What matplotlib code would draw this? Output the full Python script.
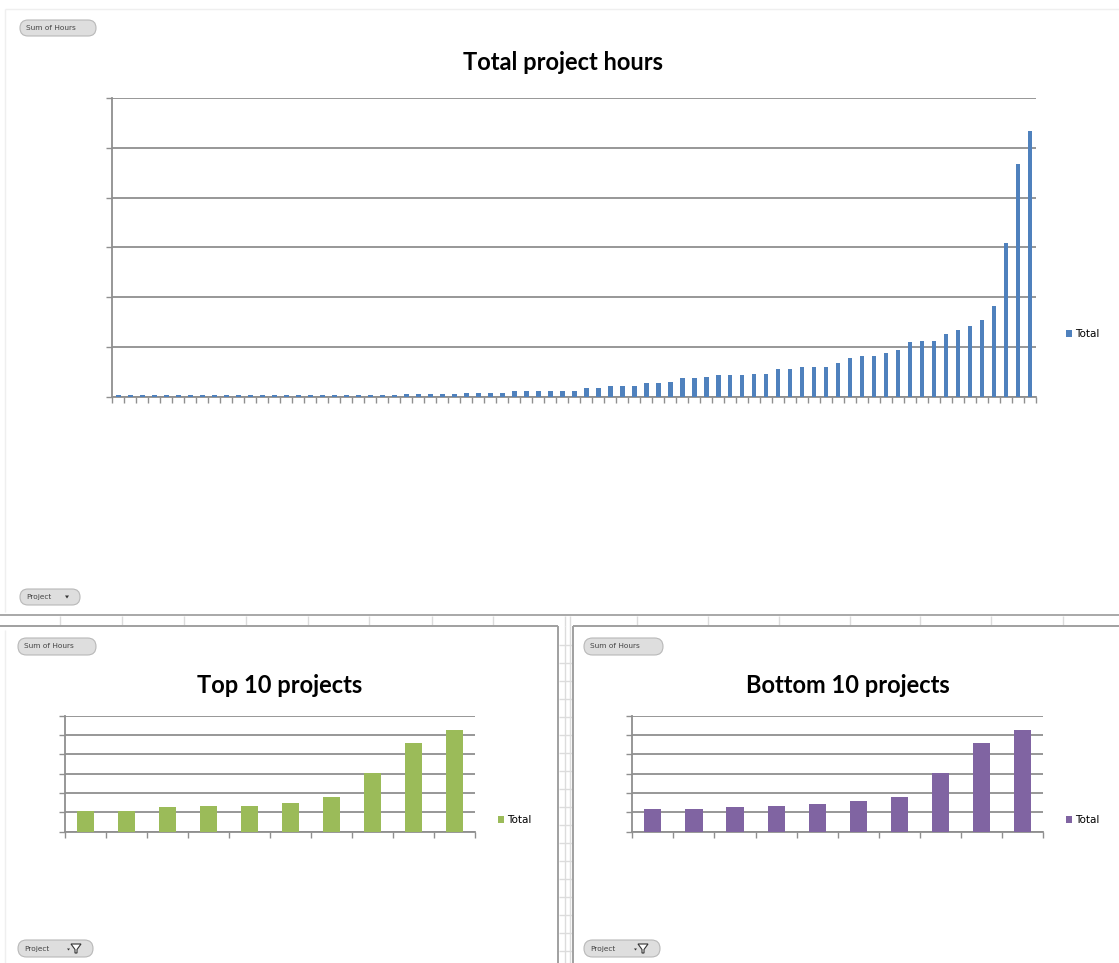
import numpy as np
import matplotlib
matplotlib.use("Agg")
import matplotlib.pyplot as plt
from matplotlib.patches import FancyBboxPatch, Polygon

W, H = 1119, 963

# ---- data (hours) ----
hours = [4, 4, 4, 4, 4, 4, 4, 4, 4, 4, 4, 4, 4, 4, 4, 4, 4, 4, 4, 4, 4, 4, 4, 4,
         6, 6, 7, 7, 7, 9, 9, 9, 9, 13, 13, 13, 13, 13, 13, 19, 19, 22, 22, 22,
         28, 28, 31, 38, 38, 41, 44, 44, 44, 47, 47, 57, 57, 60, 60, 60, 69, 79,
         82, 82, 89, 95, 110, 113, 113, 126, 135, 142, 155, 183, 309, 467, 533]
top10 = [109, 109, 126, 133, 133, 150, 181, 305, 460, 526]
bottom10 = [117, 117, 126, 133, 142, 159, 181, 305, 460, 526]
series_name = "Total"
titles = ["Total project hours", "Top 10 projects", "Bottom 10 projects"]

BLUE, GREEN, PURPLE = "#4F81BD", "#9BBB59", "#8064A2"
GRID = "#8f8f8f"

fig = plt.figure(figsize=(W / 100, H / 100), dpi=100)
fig.patch.set_facecolor("white")

# background axes in pixel coordinates (decoration only)
bg = fig.add_axes([0, 0, 1, 1], zorder=0)
bg.set_xlim(0, W)
bg.set_ylim(H, 0)
bg.axis("off")


def hline(y, x0, x1, c, lw=1.0):
    bg.plot([x0, x1], [y, y], color=c, lw=lw, solid_capstyle="butt")


def vline(x, y0, y1, c, lw=1.0):
    bg.plot([x, x], [y0, y1], color=c, lw=lw, solid_capstyle="butt")


# faint outer frame of top chart
hline(9, 5, W, "#efefef")
vline(5, 9, 612, "#efefef")

# spreadsheet lines between the charts
hline(615, 0, W, "#a8a8a8", 1.4)
for x in [60, 122, 184, 246, 308, 369, 432, 493, 565, 570, 637, 708, 779, 850, 920, 991, 1063]:
    vline(x, 616, 626, "#dcdcdc", 1.0)
for y in range(645, H, 18):
    hline(y, 559, 572, "#dcdcdc", 1.0)
vline(565, 626, H, "#dcdcdc", 1.0)
vline(570, 626, H, "#dcdcdc", 1.0)
# panel borders
hline(626, 0, 558, "#a0a0a0", 1.4)
vline(558, 626, H, "#a0a0a0", 1.4)
hline(626, 573, W, "#a0a0a0", 1.4)
vline(573, 626, H, "#a0a0a0", 1.4)
vline(5, 630, H, "#efefef")


def button(x, y, w, h, text, funnel=False, arrow=False):
    p = FancyBboxPatch((x, y), w, h, boxstyle=f"round,pad=0,rounding_size={h/2}",
                       fc="#dedede", ec="#b8b8b8", lw=0.8, zorder=2)
    bg.add_patch(p)
    bg.text(x + 6, y + h / 2, text, fontsize=5.3, color="#444444",
            va="center", ha="left", zorder=3)
    if arrow:
        bg.add_patch(Polygon([[x + w - 15, y + h / 2 - 1.5], [x + w - 11, y + h / 2 - 1.5],
                              [x + w - 13, y + h / 2 + 1.5]], closed=True, fc="#333333", ec="none", zorder=3))
    if funnel:
        bg.add_patch(Polygon([[x + w - 26, y + h / 2], [x + w - 23, y + h / 2],
                              [x + w - 24.5, y + h / 2 + 2]], closed=True, fc="#333333", ec="none", zorder=3))
        bg.add_patch(Polygon([[x + w - 22, y + 4], [x + w - 12, y + 4], [x + w - 16, y + h / 2 + 1],
                              [x + w - 16, y + h - 4], [x + w - 18, y + h - 4], [x + w - 18, y + h / 2 + 1]],
                             closed=True, fc="white", ec="#333333", lw=0.8, zorder=3))


button(20, 20, 76, 16, "Sum of Hours")
button(20, 589, 60, 16, "Project", arrow=True)
button(18, 638, 78, 17, "Sum of Hours")
button(18, 940, 75, 17, "Project", funnel=True)
button(584, 638, 79, 17, "Sum of Hours")
button(584, 940, 76, 17, "Project", funnel=True)


def make_axes(l, r, t, b):
    return fig.add_axes([l / W, 1 - b / H, (r - l) / W, (b - t) / H], zorder=1)


def style(ax, n):
    ax.set_facecolor("none")
    ax.set_xlim(-0.5, n - 0.5)
    ax.set_ylim(0, 600)
    ax.set_yticks(np.arange(0, 601, 100))
    ax.set_xticks(np.arange(-0.5, n, 1))
    ax.set_xticklabels([])
    ax.set_yticklabels([])
    ax.yaxis.grid(True, color=GRID, lw=1.3)
    ax.set_axisbelow(True)
    for s in ["top", "right"]:
        ax.spines[s].set_visible(False)
    for s in ["left", "bottom"]:
        ax.spines[s].set_color(GRID)
        ax.spines[s].set_linewidth(1.3)
    ax.tick_params(axis="both", direction="out", length=4, width=1, color=GRID)


def legend(ax, bars, x, y):
    ax.legend([bars], [series_name], loc="center left", bbox_to_anchor=(x / W, 1 - y / H),
              bbox_transform=fig.transFigure, frameon=False, fontsize=7.5,
              handlelength=0.6, handleheight=0.6, handletextpad=0.3,
              borderpad=0, borderaxespad=0)


TFONT = dict(family="Lato", fontweight="bold", color="black")
TSIZE = 17

# main chart
ax1 = make_axes(112.3, 1036, 98, 397)
b1 = ax1.bar(np.arange(len(hours)), hours, width=0.4, color=BLUE, zorder=3)
style(ax1, len(hours))
legend(ax1, b1, 1066, 334)
fig.text(563 / W, 1 - 63 / H, titles[0], ha="center", va="center", fontsize=TSIZE, **TFONT)

# top 10
ax2 = make_axes(65, 475, 715.7, 831.7)
b2 = ax2.bar(np.arange(len(top10)), top10, width=0.42, color=GREEN, zorder=3)
style(ax2, len(top10))
legend(ax2, b2, 498, 820)
fig.text(280 / W, 1 - 685 / H, titles[1], ha="center", va="center", fontsize=TSIZE, **TFONT)

# bottom 10
ax3 = make_axes(632.3, 1043.3, 715.7, 831.7)
b3 = ax3.bar(np.arange(len(bottom10)), bottom10, width=0.42, color=PURPLE, zorder=3)
style(ax3, len(bottom10))
legend(ax3, b3, 1066, 820)
fig.text(848 / W, 1 - 685 / H, titles[2], ha="center", va="center", fontsize=TSIZE, **TFONT)

fig.savefig("out.png", dpi=100, facecolor="white")
